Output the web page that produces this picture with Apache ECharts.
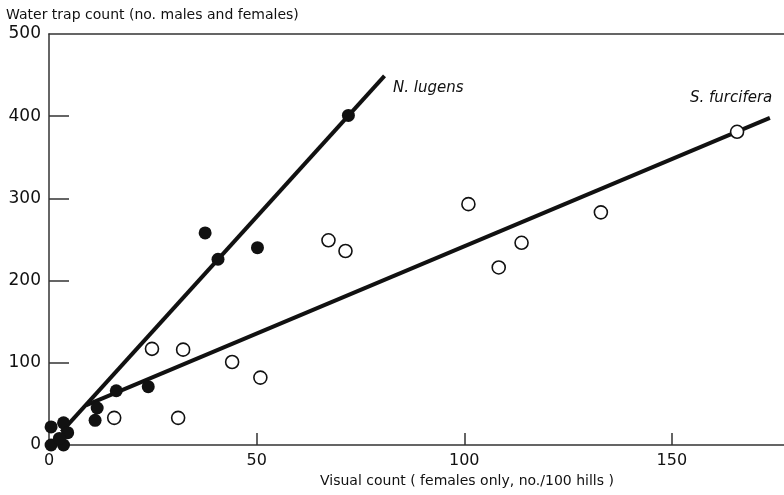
<!DOCTYPE html>
<html>
<head>
<meta charset="utf-8">
<script src="https://cdn.jsdelivr.net/npm/echarts@6/dist/echarts.min.js"></script>
<style>
  html, body { margin: 0; padding: 0; background: #fff; }
  #chart { width: 784px; height: 495px; }
</style>
</head>
<body>
<div id="chart"></div>
<script>
// N. lugens (filled circles): [visual count, water trap count]
const lugensPoints = [
  [72.1, 401], [37.6, 258], [40.7, 226], [50.2, 240],
  [23.9, 71], [16.2, 66], [11.6, 45], [11.1, 30],
  [0.5, 22], [3.5, 27], [4.5, 15], [0.5, 0], [3.5, 0], [2.5, 8]
];
// S. furcifera (open circles)
const furciferaPoints = [
  [165.7, 381], [101, 293], [67.3, 249], [71.4, 236],
  [108.3, 216], [113.8, 246], [132.9, 283],
  [24.8, 117], [32.3, 116], [44.1, 101], [50.9, 82],
  [15.7, 33], [31.1, 33]
];
// fitted lines (end points)
const lugensLine = [[3, 16], [80.8, 449]];
const furciferaLine = [[9, 48.6], [173.6, 398]];

const xTicks = [0, 50, 100, 150];
const yTicks = [0, 100, 200, 300, 400, 500];

const font = 'DejaVu Sans';
const ink = '#111';

const chart = echarts.init(document.getElementById('chart'));

chart.setOption({
  backgroundColor: '#fff',
  animation: false,
  grid: { left: 49, right: 0, top: 34, bottom: 50 },
  xAxis: [
    {
      type: 'value',
      min: 0,
      max: 177,
      interval: 50,
      axisLine: { show: true, lineStyle: { color: '#333', width: 1.5 } },
      axisTick: {
        show: true, inside: true, length: 12,
        customValues: xTicks.slice(1),
        lineStyle: { color: '#333', width: 1.5 }
      },
      axisLabel: {
        color: ink, fontFamily: font, fontSize: 16, margin: 8,
        customValues: xTicks
      },
      splitLine: { show: false }
    },
    {
      type: 'value',
      position: 'top',
      min: 0,
      max: 177,
      axisLine: { show: true, lineStyle: { color: '#333', width: 1.5 } },
      axisTick: { show: false },
      axisLabel: { show: false },
      splitLine: { show: false }
    }
  ],
  yAxis: {
    type: 'value',
    min: 0,
    max: 500,
    interval: 100,
    axisLine: { show: true, lineStyle: { color: '#333', width: 1.5 } },
    axisTick: {
      show: true, inside: true, length: 20,
      customValues: yTicks.slice(1, -1),
      lineStyle: { color: '#333', width: 1.5 }
    },
    axisLabel: {
      color: ink, fontFamily: font, fontSize: 17, margin: 8,
      customValues: yTicks
    },
    splitLine: { show: false }
  },
  graphic: [
    {
      type: 'text', left: 6, top: 8,
      style: { text: 'Water trap count (no. males and females)', font: '14px "DejaVu Sans"', fill: ink }
    },
    {
      type: 'text', left: 320, top: 474,
      style: { text: 'Visual count ( females only, no./100 hills )', font: '14px "DejaVu Sans"', fill: ink }
    },
    {
      type: 'text', left: 393, top: 81,
      style: { text: 'N. lugens', font: 'italic 15px "DejaVu Sans"', fill: ink }
    },
    {
      type: 'text', left: 690, top: 91,
      style: { text: 'S. furcifera', font: 'italic 15px "DejaVu Sans"', fill: ink }
    }
  ],
  series: [
    {
      name: 'N. lugens fit',
      type: 'line',
      data: lugensLine,
      symbol: 'none',
      lineStyle: { color: ink, width: 4 },
      z: 1
    },
    {
      name: 'S. furcifera fit',
      type: 'line',
      data: furciferaLine,
      symbol: 'none',
      lineStyle: { color: ink, width: 4 },
      z: 1
    },
    {
      name: 'S. furcifera',
      type: 'scatter',
      data: furciferaPoints,
      symbol: 'circle',
      symbolSize: 13,
      itemStyle: { color: '#fff', borderColor: ink, borderWidth: 1.6, opacity: 1 },
      z: 3
    },
    {
      name: 'N. lugens',
      type: 'scatter',
      data: lugensPoints,
      symbol: 'circle',
      symbolSize: 13,
      itemStyle: { color: ink, opacity: 1 },
      z: 4
    }
  ]
});
</script>
</body>
</html>
